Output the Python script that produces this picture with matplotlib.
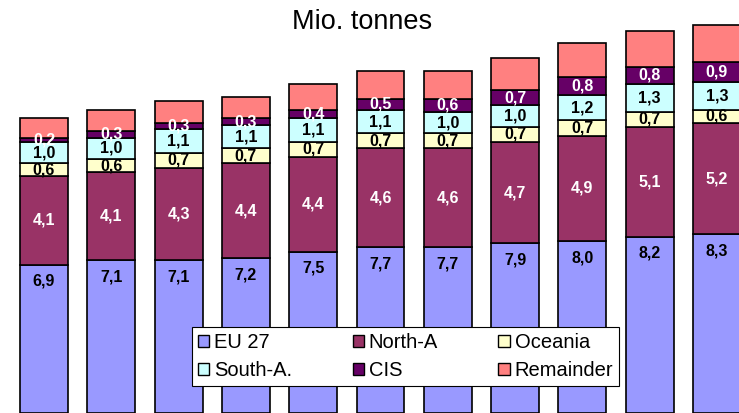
import numpy as np
import matplotlib.pyplot as plt
from matplotlib.patches import Patch

# dados (Mio. tonnes)
categorias = list(range(11))
eu27 = [6.9, 7.1, 7.1, 7.2, 7.5, 7.7, 7.7, 7.9, 8.0, 8.2, 8.3]
north_a = [4.1, 4.1, 4.3, 4.4, 4.4, 4.6, 4.6, 4.7, 4.9, 5.1, 5.2]
oceania = [0.6, 0.6, 0.7, 0.7, 0.7, 0.7, 0.7, 0.7, 0.7, 0.7, 0.6]
south_a = [1.0, 1.0, 1.1, 1.1, 1.1, 1.1, 1.0, 1.0, 1.2, 1.3, 1.3]
cis = [0.2, 0.3, 0.3, 0.3, 0.4, 0.5, 0.6, 0.7, 0.8, 0.8, 0.9]
remainder = [0.9, 1.0, 1.0, 1.0, 1.2, 1.3, 1.3, 1.5, 1.6, 1.65, 1.75]

series = [
    ('EU 27', eu27, '#9999FF', 'black'),
    ('North-A', north_a, '#993366', 'white'),
    ('Oceania', oceania, '#FFFFCC', 'black'),
    ('South-A.', south_a, '#CCFFFF', 'black'),
    ('CIS', cis, '#660066', 'white'),
    ('Remainder', remainder, '#FF8080', None),
]

plt.rcParams['font.family'] = ['Liberation Sans', 'DejaVu Sans']

fig = plt.figure(figsize=(7.39, 4.13), dpi=100)
ax = fig.add_axes([0, 0, 1, 1])

x = np.arange(len(categorias))
base = np.zeros(len(categorias))
handles = []
for nome, valores, cor, cor_txt in series:
    valores = np.array(valores)
    ax.bar(x, valores, width=0.713, bottom=base, color=cor,
           edgecolor='black', linewidth=1.2, zorder=2)
    if cor_txt is not None:
        for xi, b, v in zip(x, base, valores):
            rotulo = f"{v:.1f}".replace('.', ',')
            if nome == 'EU 27':
                ax.annotate(rotulo, (xi, b + v), xytext=(0, -12),
                            textcoords='offset points', ha='center', va='center',
                            fontsize=11.5, fontweight='bold', color=cor_txt, zorder=3)
            else:
                ax.text(xi, b + v / 2, rotulo, ha='center', va='center',
                        fontsize=11.5, fontweight='bold', color=cor_txt, zorder=3)
    handles.append(Patch(facecolor=cor, edgecolor='black', linewidth=1.0, label=nome))
    base = base + valores

ax.set_xlim(-0.654, 10.327)
ax.set_ylim(0, 19.2)
ax.axis('off')

# legenda preenchida por linhas como no Excel
ordem = [0, 3, 1, 4, 2, 5]
leg = ax.legend([handles[i] for i in ordem], [handles[i].get_label() for i in ordem],
                ncol=3, loc='upper left', bbox_to_anchor=(192 / 739, 1 - 327 / 413),
                fontsize=14.5, handlelength=0.55, handleheight=0.55, handletextpad=0.25,
                columnspacing=3.0, labelspacing=0.45, borderpad=0.3,
                fancybox=False, framealpha=1, edgecolor='black', borderaxespad=0)
leg.get_frame().set_linewidth(0.8)
leg.set_zorder(5)

fig.text(362 / 739, 1 - 22 / 413, 'Mio. tonnes', ha='center', va='center', fontsize=19.5)

fig.savefig('out.png', dpi=100)
